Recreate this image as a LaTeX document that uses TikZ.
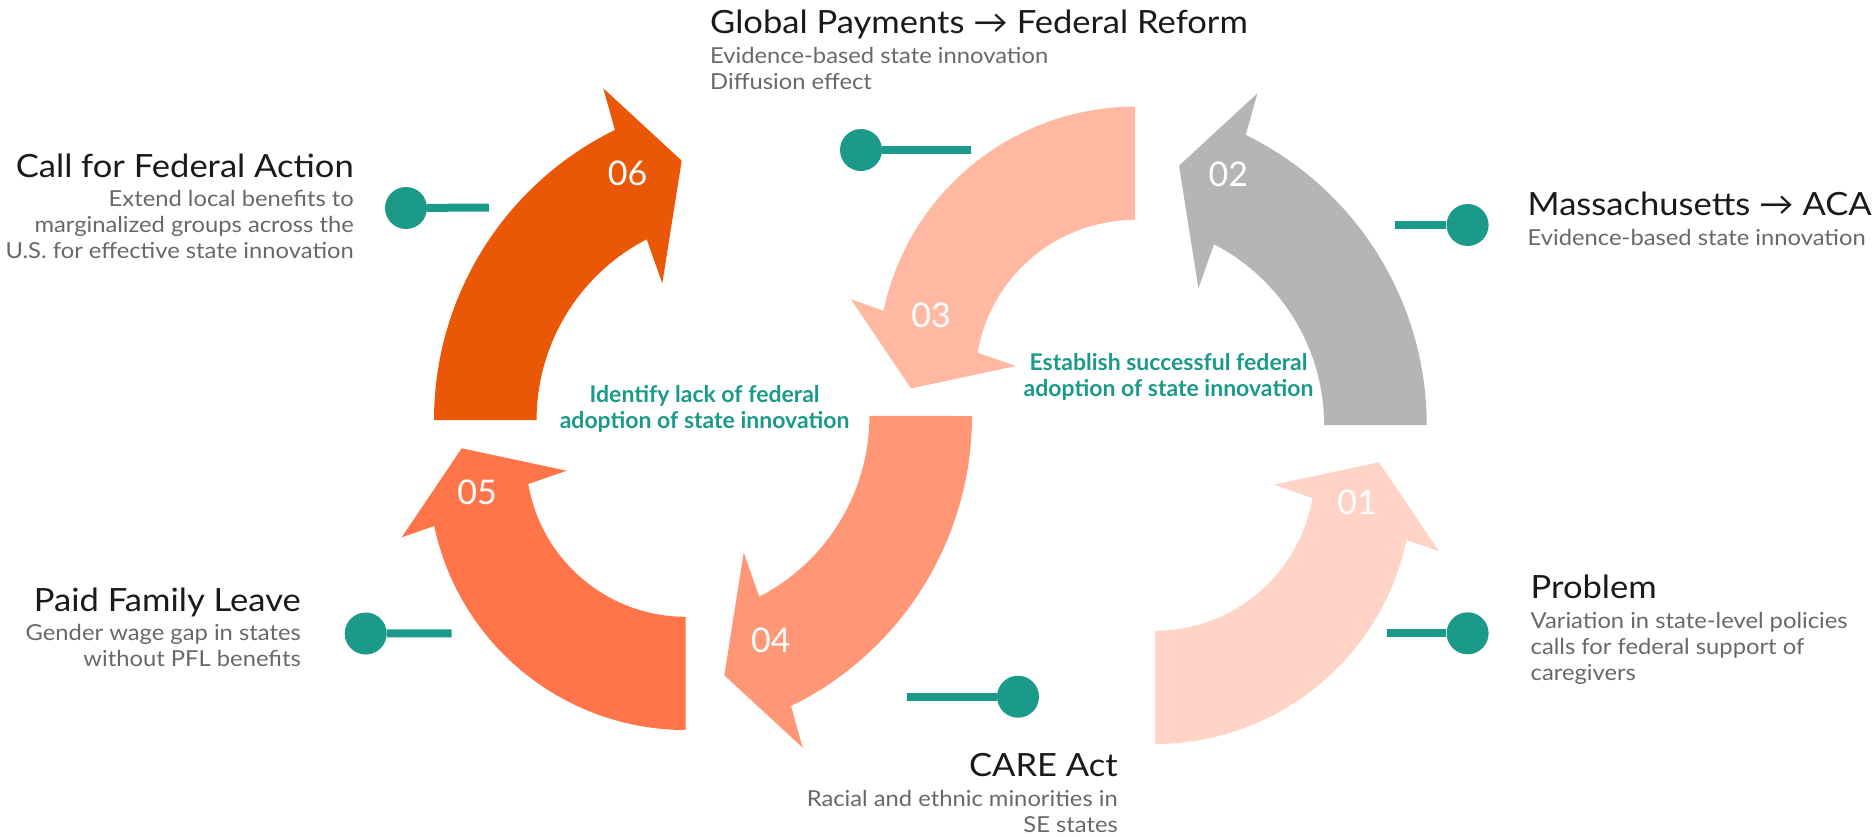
\documentclass[tikz,border=0pt]{standalone}
\usepackage{fontspec}
\setmainfont{Lato}
\newfontfamily\widelato{Lato}[FakeStretch=1.08]
\definecolor{stepOne}{HTML}{FFD3C5}
\definecolor{stepTwo}{HTML}{B5B5B5}
\definecolor{stepThree}{HTML}{FFB9A3}
\definecolor{stepFour}{HTML}{FF9676}
\definecolor{stepFive}{HTML}{FF7549}
\definecolor{stepSix}{HTML}{EA5706}
\definecolor{pinTeal}{HTML}{1B9A8A}
\definecolor{headInk}{HTML}{1A1A1A}
\definecolor{noteInk}{HTML}{68686C}
\begin{document}
\begin{tikzpicture}[x=1pt,y=1pt,yscale=-1]
        \tikzstyle{titletext}=[inner sep=0pt,text=headInk,font=\widelato\fontsize{32}{36}\selectfont]
        \tikzstyle{notetext}=[inner sep=0pt,text=noteInk,font=\widelato\fontsize{22}{26}\selectfont]
        \tikzstyle{aimtext}=[inner sep=0pt,text=pinTeal,align=center,font=\bfseries\fontsize{23}{25.5}\selectfont]
        \tikzstyle{stagenum}=[inner sep=0pt,text=white,font=\fontsize{34}{40}\selectfont]
        \tikzstyle{knob}=[circle,fill=pinTeal,inner sep=0pt,minimum size=42pt]
        \tikzstyle{knobline}=[draw=pinTeal,line width=8pt]
        \newcommand\bendA[2]{
            \begin{scope}[#1]
                \fill[#2] (0,0) arc[start angle=180,end angle=243.9,radius=323]
                -- (169.3,-331.7) -- (247.7,-259.3) -- (228.3,-136.7) -- (212.7,-180.7)
                arc[start angle=242.7,end angle=180,radius=203.4] -- cycle;
            \end{scope}
        }
        \newcommand\bendB[2]{
            \begin{scope}[#1]
                \fill[#2] (0,0) arc[start angle=90,end angle=168.1,radius=257]
                -- (-284,-192.7) -- (-224,-281.7) -- (-119,-259.3) -- (-157.4,-246)
                arc[start angle=170.3,end angle=90,radius=159.7] -- cycle;
            \end{scope}
        }
        \useasboundingbox (0,0) rectangle (1875,836);
        \bendB{shift={(1155,744)},xscale=-1}{stepOne}
        \bendA{shift={(1426.7,425)},xscale=-1}{stepTwo}
        \bendB{shift={(1135,106.7)},yscale=-1}{stepThree}
        \bendA{shift={(972,416)},rotate=180}{stepFour}
        \bendB{shift={(685.7,730)}}{stepFive}
        \bendA{shift={(434,420)}}{stepSix}
        \node[stagenum] (one) at (1357.2,502.7) {01};
        \node[stagenum] (two) at (1228.3,174) {02};
        \node[stagenum] (three) at (931.2,315) {03};
        \node[stagenum] (four) at (770.8,640) {04};
        \node[stagenum] (five) at (477,492) {05};
        \node[stagenum] (six) at (627.5,173.8) {06};
        \node[aimtext,anchor=north] (lack) at (704.6,385.3) {Identify lack of federal\\adoption of state innovation};
        \node[aimtext,anchor=north] (success) at (1168.5,353.6) {Establish successful federal\\adoption of state innovation};
        \coordinate (callEnd) at (489,207.5);
        \coordinate (globalEnd) at (971,150);
        \coordinate (massEnd) at (1395,225);
        \coordinate (problemEnd) at (1387.3,633.3);
        \coordinate (careEnd) at (907.3,696.7);
        \coordinate (leaveEnd) at (451.7,633.3);
        \node[knob] (callKnob) at (406,208) {};
        \node[knob] (globalKnob) at (861,150) {};
        \node[knob] (massKnob) at (1467.6,225) {};
        \node[knob] (problemKnob) at (1467.6,633.3) {};
        \node[knob] (careKnob) at (1018,696.7) {};
        \node[knob] (leaveKnob) at (365.7,633.5) {};
        \draw[knobline] (callKnob) -- (callEnd);
        \draw[knobline] (globalKnob) -- (globalEnd);
        \draw[knobline] (massKnob) -- (massEnd);
        \draw[knobline] (problemKnob) -- (problemEnd);
        \draw[knobline] (careKnob) -- (careEnd);
        \draw[knobline] (leaveKnob) -- (leaveEnd);
        \node[titletext,anchor=base west] (globalHead) at (710,33.3) {Global Payments → Federal Reform};
        \node[notetext,anchor=north west,align=left] (globalNote) at (710,47) {Evidence-based state innovation\\Diffusion effect};
        \node[titletext,anchor=base east] (callHead) at (354,177.7) {Call for Federal Action};
        \node[notetext,anchor=north east,align=right] (callNote) at (354,190.4) {Extend local benefits to\\marginalized groups across the\\U.S. for effective state innovation};
        \node[titletext,anchor=base west] (massHead) at (1527.5,215) {Massachusetts → ACA};
        \node[notetext,anchor=north west,align=left] (massNote) at (1527.5,228.7) {Evidence-based state innovation};
        \node[titletext,anchor=base east] (leaveHead) at (301,611.7) {Paid Family Leave};
        \node[notetext,anchor=north east,align=right] (leaveNote) at (301,623.7) {Gender wage gap in states\\without PFL benefits};
        \node[titletext,anchor=base west] (problemHead) at (1530.5,598.3) {Problem};
        \node[notetext,anchor=north west,align=left] (problemNote) at (1530.5,612) {Variation in state-level policies\\calls for federal support of\\caregivers};
        \node[titletext,anchor=base east] (careHead) at (1118,776.7) {CARE Act};
        \node[notetext,anchor=north east,align=right] (careNote) at (1118,790.4) {Racial and ethnic minorities in\\SE states};
\end{tikzpicture}
\end{document}
